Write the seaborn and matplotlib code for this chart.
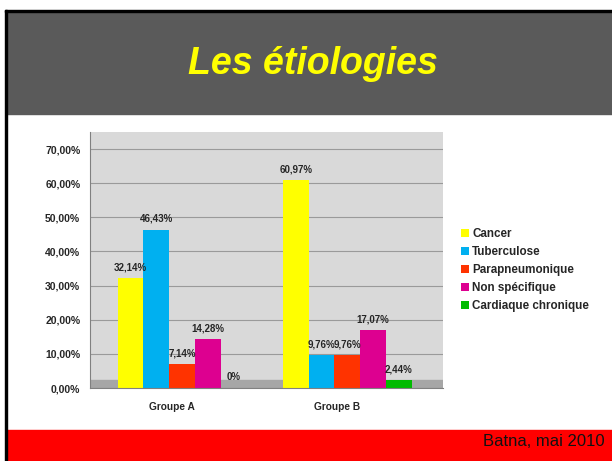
import matplotlib
matplotlib.use("Agg")
import matplotlib.pyplot as plt
from matplotlib.patches import Rectangle
import seaborn as sns
import pandas as pd

groups = ["Groupe A", "Groupe B"]
categories = ["Cancer", "Tuberculose", "Parapneumonique", "Non spécifique", "Cardiaque chronique"]
groupe_a = [32.14, 46.43, 7.14, 14.28, 0.0]
groupe_b = [60.97, 9.76, 9.76, 17.07, 2.44]
labels_a = ["32,14%", "46,43%", "7,14%", "14,28%", "0%"]
labels_b = ["60,97%", "9,76%", "9,76%", "17,07%", "2,44%"]
colors = ["#ffff00", "#00b0f0", "#ff3300", "#dd0090", "#00bb00"]

sns.set_style("white")
plt.rcParams["font.family"] = ["Liberation Sans", "DejaVu Sans"]

df = pd.DataFrame({
    "Groupe": [groups[0]] * 5 + [groups[1]] * 5,
    "Etiologie": categories * 2,
    "Valeur": groupe_a + groupe_b,
})

fig = plt.figure(figsize=(6.12, 4.61), dpi=100)

# slide decoration: header, footer, border
fig.patches.append(Rectangle((7 / 612, 1 - 114 / 461), 1, 102 / 461, transform=fig.transFigure,
                             color="#5a5a5a", zorder=-5))
fig.patches.append(Rectangle((5 / 612, 1 - 12 / 461), 1, 2 / 461, transform=fig.transFigure,
                             color="black", zorder=-4))
fig.patches.append(Rectangle((5 / 612, 0), 2 / 612, 1 - 10 / 461, transform=fig.transFigure,
                             color="black", zorder=-4))
fig.patches.append(Rectangle((7 / 612, 0), 1, 31 / 461, transform=fig.transFigure,
                             color="#ff0000", zorder=-5))
fig.text(313 / 612, 1 - 64 / 461, "Les étiologies", color="#ffff00", fontsize=27,
         fontweight="bold", fontstyle="italic", ha="center", va="center")
fig.text(605 / 612, 1 - 441 / 461, "Batna, mai 2010", color="#111111", fontsize=12,
         ha="right", va="center")

ax = fig.add_axes([90 / 612, 1 - 388 / 461, 353 / 612, 256 / 461])
ax.set_facecolor("#d9d9d9")
ax.set_axisbelow(True)

sns.barplot(data=df, x="Groupe", y="Valeur", hue="Etiologie", palette=colors,
            width=0.78, ax=ax, edgecolor="none", saturation=1)

for cont, lab in zip(ax.containers, zip(labels_a, labels_b)):
    ax.bar_label(cont, labels=list(lab), fontsize=7, fontweight="bold", padding=4)

# floor strip
ax.axhspan(0, 2.2, color="#a6a6a6", zorder=0.5)

ax.set_xlim(-0.558, 1.58)
ax.set_xticks([-0.06, 0.94])
ax.set_xticklabels(groups, fontsize=7.3, fontweight="bold")
ax.set_ylim(0, 75)
ax.set_yticks(range(0, 71, 10))
ax.set_yticklabels([f"{v:.2f}%".replace(".", ",") for v in range(0, 71, 10)],
                   fontsize=7.5, fontweight="bold")
ax.tick_params(axis="y", length=3, color="#808080", pad=4)
ax.tick_params(axis="x", length=0, pad=10)
ax.yaxis.grid(True, color="#9a9a9a", linewidth=0.8)
for s in ["top", "right"]:
    ax.spines[s].set_visible(False)
ax.spines["left"].set_color("#808080")
ax.spines["bottom"].set_color("#808080")
ax.set_xlabel("")
ax.set_ylabel("")

leg = ax.legend(loc="center left", bbox_to_anchor=(450 / 612, 1 - 270 / 461),
                bbox_transform=fig.transFigure, frameon=False, prop={"size": 8.4, "weight": "bold"},
                handlelength=0.7, handleheight=0.7, handletextpad=0.3, labelspacing=0.5)

fig.savefig("out.png", dpi=100)
